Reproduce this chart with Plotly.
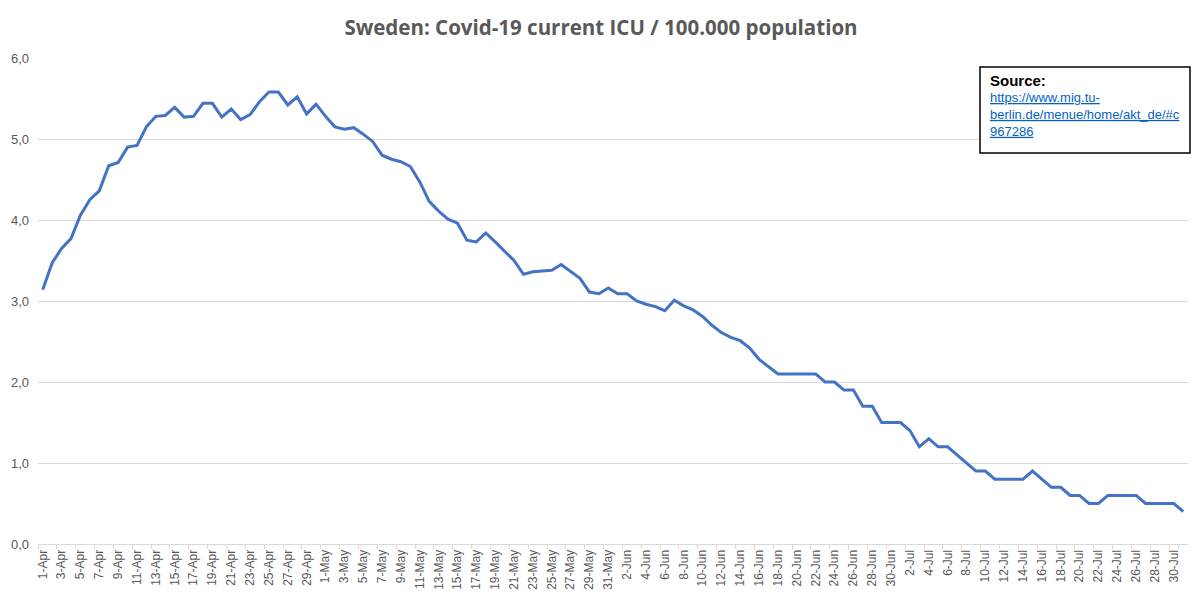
import datetime as dt
import plotly.graph_objects as go

# ---- data ----
start = dt.date(2020, 4, 1)
dates = [start + dt.timedelta(days=i) for i in range(122)]
categories = [f"{d.day}-{d.strftime('%b')}" for d in dates]

icu_per_100k = [
    3.14, 3.47, 3.65, 3.77, 4.06, 4.25, 4.36, 4.67, 4.71, 4.90,
    4.92, 5.15, 5.28, 5.29, 5.39, 5.27, 5.28, 5.44, 5.44, 5.27,
    5.37, 5.24, 5.30, 5.46, 5.58, 5.58, 5.42, 5.52, 5.31, 5.43,
    5.28, 5.15, 5.12, 5.14, 5.06, 4.97, 4.80, 4.75, 4.72, 4.66,
    4.47, 4.23, 4.11, 4.01, 3.96, 3.75, 3.73, 3.84, 3.73, 3.61,
    3.50, 3.33, 3.36, 3.37, 3.38, 3.45, 3.36, 3.28, 3.11, 3.09,
    3.16, 3.09, 3.09, 3.00, 2.96, 2.93, 2.88, 3.01, 2.94, 2.89,
    2.81, 2.70, 2.61, 2.55, 2.51, 2.42, 2.28, 2.19, 2.10, 2.10,
    2.10, 2.10, 2.10, 2.00, 2.00, 1.90, 1.90, 1.70, 1.70, 1.50,
    1.50, 1.50, 1.40, 1.20, 1.30, 1.20, 1.20, 1.10, 1.00, 0.90,
    0.90, 0.80, 0.80, 0.80, 0.80, 0.90, 0.80, 0.70, 0.70, 0.60,
    0.60, 0.50, 0.50, 0.60, 0.60, 0.60, 0.60, 0.50, 0.50, 0.50,
    0.50, 0.40,
]

x_tick_labels = categories[::2]
y_tick_values = [0, 1, 2, 3, 4, 5, 6]
y_tick_labels = ["0,0", "1,0", "2,0", "3,0", "4,0", "5,0", "6,0"]

title_text = "Sweden: Covid-19 current ICU / 100.000 population"
source_title = "Source:"
source_lines = ["https://www.mig.tu-", "berlin.de/menue/home/akt_de/#c", "967286"]

# ---- figure ----
fig = go.Figure()
fig.add_trace(go.Scatter(
    x=categories, y=icu_per_100k, mode="lines",
    line=dict(color="#4472C4", width=3),
    hoverinfo="x+y", showlegend=False,
))

# page body has an 8px default margin: compensate
OFF = 8
W, H = 1200 - OFF, 599 - OFF
L, R, T, B = 38 - OFF, 12, 58 - OFF, 55
pw, ph = W - L - R, H - T - B

def px(xp):  # screen pixel -> paper
    return (xp - OFF - L) / pw

def py(yp):
    return (H - B - (yp - OFF)) / ph

grey = "#595959"
fig.update_layout(
    width=W, height=H,
    margin=dict(l=L, r=R, t=T, b=B, autoexpand=False),
    paper_bgcolor="white", plot_bgcolor="white",
    font=dict(family="Open Sans, Liberation Sans, sans-serif", color=grey),
    title=dict(text=f"<b>{title_text}</b>", x=(601 - OFF) / W, xref="container", xanchor="center",
               y=1 - (28 - OFF) / H, yref="container", yanchor="middle",
               font=dict(size=20.5, color=grey, family="Open Sans, sans-serif")),
    xaxis=dict(
        type="category", range=[-0.5, len(categories) - 0.5],
        tickmode="array", tickvals=x_tick_labels, ticktext=x_tick_labels,
        tickangle=-90, tickfont=dict(size=12, color=grey, family="Liberation Sans, sans-serif"),
        showgrid=False, showline=True, linecolor="#d9d9d9", linewidth=1,
        ticks="outside", ticklen=4, tickcolor="#d9d9d9", tickson="boundaries",
        zeroline=False, fixedrange=True,
    ),
    yaxis=dict(
        range=[0, 6], tickmode="array", tickvals=y_tick_values, ticktext=y_tick_labels,
        tickfont=dict(size=13, color=grey, family="Liberation Sans, sans-serif"),
        showgrid=True, gridcolor="#d9d9d9", gridwidth=1, zeroline=False,
        showline=False, ticks="", ticklabelstandoff=8, fixedrange=True,
    ),
)

# source box
fig.add_shape(type="rect", xref="paper", yref="paper",
              x0=px(980), x1=px(1190), y0=py(153), y1=py(67),
              line=dict(color="black", width=1.5), fillcolor="white", layer="above")
fig.add_annotation(xref="paper", yref="paper", x=px(988), y=py(70),
                   xanchor="left", yanchor="top", showarrow=False, align="left",
                   text=f"<b>{source_title}</b>",
                   font=dict(size=15, color="black", family="Liberation Sans, sans-serif"))
link_text = "<br>".join(f"<u>{s}</u>" for s in source_lines)
fig.add_annotation(xref="paper", yref="paper", x=px(988), y=py(88),
                   xanchor="left", yanchor="top", showarrow=False, align="left",
                   text=link_text,
                   font=dict(size=13, color="#0563C1", family="Liberation Sans, sans-serif"))

fig.write_html("out.html")
